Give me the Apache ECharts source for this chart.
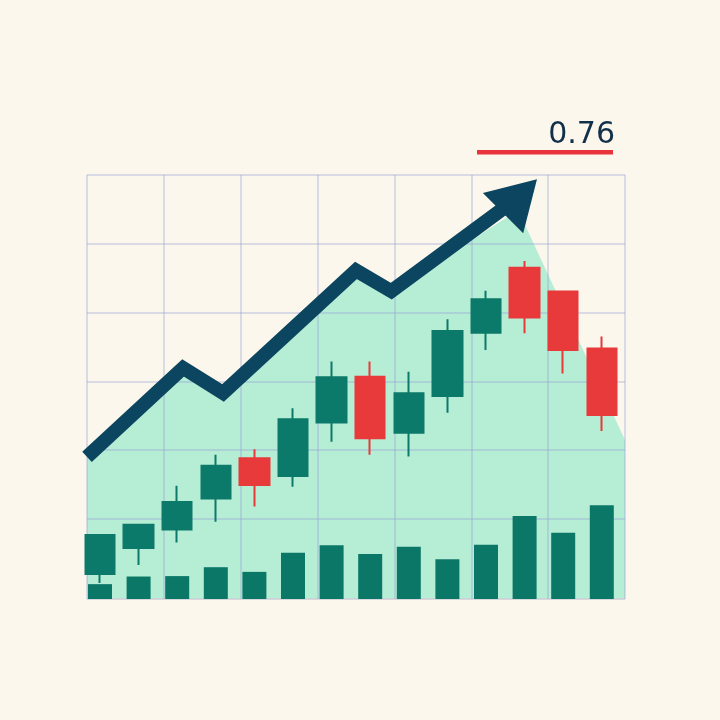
<!DOCTYPE html>
<html><head><meta charset="utf-8">
<script src="https://cdn.jsdelivr.net/npm/echarts@6/dist/echarts.min.js"></script>
<style>html,body{margin:0;padding:0;background:#fbf7ec}#c{width:720px;height:720px}</style>
</head><body><div id="c"></div>
<script>
// ---- data (price units: 0..100 over the plot height) ----
const categories = ['P1','P2','P3','P4','P5','P6','P7','P8','P9','P10','P11','P12','P13','P14'];
const openVals  = [5.9, 12.0, 16.4, 23.7, 33.2, 29.0, 41.6, 52.4, 39.2, 47.9, 62.8, 78.1, 72.5, 59.1];
const closeVals = [15.1, 17.5, 22.9, 31.4, 26.9, 42.4, 52.3, 37.9, 48.5, 63.2, 70.7, 66.4, 58.7, 43.4];
const lowVals   = [3.8, 8.0, 13.3, 18.2, 21.8, 26.5, 37.1, 34.0, 33.6, 43.9, 58.7, 62.7, 53.2, 39.6];
const highVals  = [15.1, 17.5, 26.7, 34.0, 35.3, 45.0, 56.0, 56.0, 53.6, 66.0, 72.7, 79.7, 72.6, 61.9];
const volumes   = [3.5, 5.3, 5.4, 7.5, 6.4, 10.9, 12.7, 10.6, 12.3, 9.4, 12.8, 19.6, 15.6, 22.1];
// trend arrow (x in grid columns 0..7, y in price units)
const trendX = [0, 1.25, 1.77, 3.5, 3.96, 5.634];
const trendY = [33.5, 54.5, 48.6, 77.5, 72.6, 95.0];
// shaded region under the trend
const areaX = [0, 1.25, 1.77, 3.5, 3.96, 5.61, 7];
const areaY = [33.5, 54.5, 48.6, 77.5, 72.6, 91.7, 37.5];
const headlineValue = '0.76';

const candleData = categories.map((c, i) => [openVals[i], closeVals[i], lowVals[i], highVals[i]]);
const trendData = trendX.map((x, i) => [x, trendY[i]]);
const areaData = areaX.map((x, i) => [x, areaY[i]]);

const GRID_LINE = 'rgba(150,160,215,0.45)';
const NAVY = '#0c4560';
const TEAL = '#0c7a6a';
const RED = '#e8393b';

const chart = echarts.init(document.getElementById('c'));
chart.setOption({
  backgroundColor: '#fbf7ec',
  animation: false,
  grid: [
    { left: 87, right: 95, top: 175, bottom: 121, show: false },
    { left: 80.7, right: 98.9, top: 175, bottom: 121, show: false }
  ],
  xAxis: [
    { type: 'value', gridIndex: 0, min: 0, max: 7, interval: 1, z: 2,
      axisLine: { show: false }, axisTick: { show: false }, axisLabel: { show: false },
      splitLine: { show: true, lineStyle: { color: GRID_LINE, width: 1.5 } } },
    { type: 'category', gridIndex: 1, data: categories, boundaryGap: true,
      axisLine: { show: false }, axisTick: { show: false }, axisLabel: { show: false },
      splitLine: { show: false } }
  ],
  yAxis: [
    { type: 'value', gridIndex: 0, inverse: true, min: 0, max: 6.163, interval: 1, z: 2,
      axisLine: { show: false }, axisTick: { show: false }, axisLabel: { show: false },
      splitLine: { show: true, lineStyle: { color: [GRID_LINE, GRID_LINE, GRID_LINE, GRID_LINE, GRID_LINE, GRID_LINE, 'rgba(0,0,0,0)', '#cdcdd6'], width: 1.5 } } },
    { type: 'value', gridIndex: 0, min: 0, max: 100, show: false, splitLine: { show: false } },
    { type: 'value', gridIndex: 1, min: 0, max: 100, show: false, splitLine: { show: false } },
    { type: 'value', gridIndex: 1, min: 0, max: 100, show: false, splitLine: { show: false } }
  ],
  series: [
    { type: 'line', name: 'zone', xAxisIndex: 0, yAxisIndex: 1, data: areaData, z: 1,
      symbol: 'none', lineStyle: { width: 0 }, areaStyle: { color: '#b6edd5', opacity: 1 }, silent: true },
    { type: 'bar', name: 'volume', xAxisIndex: 1, yAxisIndex: 3, data: volumes, barWidth: 24, z: 3,
      itemStyle: { color: '#0b7767' } },
    { type: 'candlestick', name: 'price', xAxisIndex: 1, yAxisIndex: 2, data: candleData, barWidth: 30, z: 4,
      itemStyle: { color: TEAL, color0: RED, borderColor: TEAL, borderColor0: RED, borderWidth: 2 } },
    { type: 'line', name: 'trend', xAxisIndex: 0, yAxisIndex: 1, data: trendData, z: 5,
      symbol: 'none', lineStyle: { color: NAVY, width: 14, join: 'miter', miterLimit: 10, cap: 'butt' } },
    { type: 'scatter', name: 'arrowhead', xAxisIndex: 0, yAxisIndex: 1, data: [trendData[trendData.length - 1]], z: 6,
      symbol: 'triangle', symbolSize: [57, 48], symbolRotate: -45, itemStyle: { color: NAVY, opacity: 1 } }
  ],
  graphic: [
    { type: 'text', right: 105, top: 120, z: 10,
      style: { text: headlineValue, font: '30px "DejaVu Sans"', fill: '#12304a' } },
    { type: 'rect', shape: { x: 477, y: 150, width: 136, height: 4.5 }, z: 10,
      style: { fill: '#e8343a' } }
  ]
});
</script></body></html>
